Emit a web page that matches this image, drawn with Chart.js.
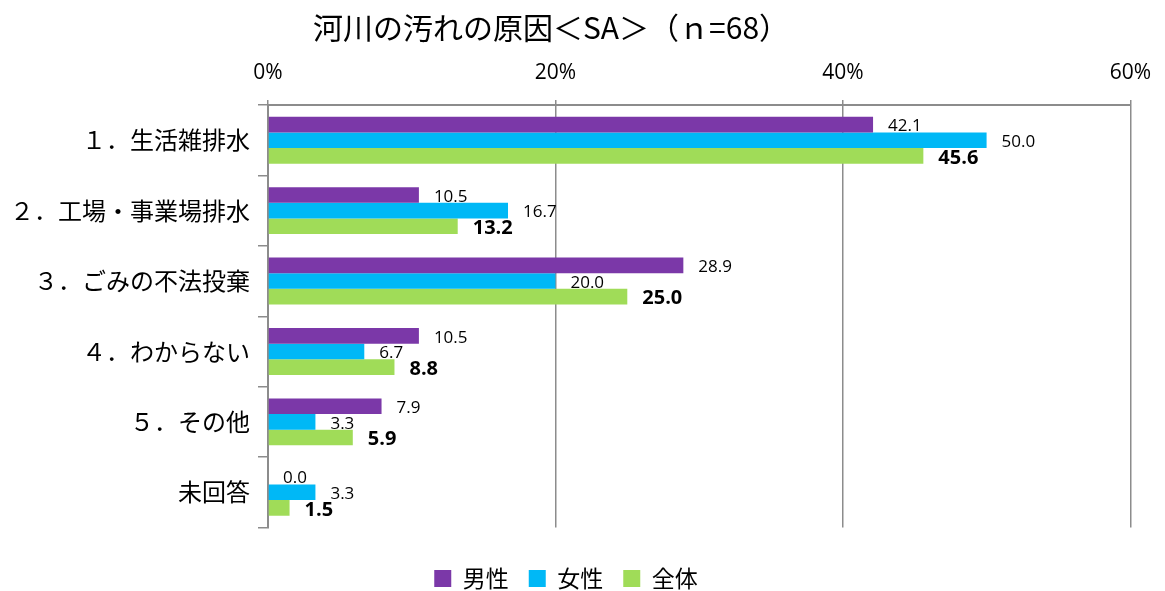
<!DOCTYPE html>
<html>
<head>
<meta charset="utf-8">
<script src="https://cdn.jsdelivr.net/npm/chart.js@4/dist/chart.umd.min.js"></script>
<style>
  html, body { margin: 0; padding: 0; background: #fff; }
  #wrap { width: 1165px; height: 591px; }
</style>
</head>
<body>
<div id="wrap"><canvas id="chart" width="1165" height="591"></canvas></div>
<script>
const categories = ['１．生活雑排水', '２．工場・事業場排水', '３．ごみの不法投棄', '４．わからない', '５．その他', '未回答'];
const maleValues = [42.1, 10.5, 28.9, 10.5, 7.9, 0.0];
const femaleValues = [50.0, 16.7, 20.0, 6.7, 3.3, 3.3];
const totalValues = [45.6, 13.2, 25.0, 8.8, 5.9, 1.5];
const xTicks = [0, 20, 40, 60];
const chartTitle = '河川の汚れの原因＜SA＞（ｎ=68）';

const jpFont = '"Noto Sans CJK JP", "Noto Sans", sans-serif';
const numFont = '"Open Sans", "Noto Sans", sans-serif';

// title drawn by hand so it can sit where the original has it
const titleText = {
    id: 'titleText',
    afterDraw(chart) {
        const ctx = chart.ctx;
        ctx.save();
        ctx.font = '30px ' + jpFont;
        ctx.fillStyle = '#000';
        ctx.textAlign = 'center';
        ctx.textBaseline = 'middle';
        ctx.fillText(chartTitle, 551, 28);
        ctx.restore();
    }
};

// value labels to the right of each bar (全体 in bold)
const valueLabels = {
    id: 'valueLabels',
    afterDatasetsDraw(chart) {
        const ctx = chart.ctx;
        ctx.save();
        chart.data.datasets.forEach((ds, i) => {
            const meta = chart.getDatasetMeta(i);
            const bold = i === 2;
            ctx.font = (bold ? 'bold 20px ' : '17px ') + numFont;
            ctx.fillStyle = '#000';
            ctx.textAlign = 'left';
            ctx.textBaseline = 'middle';
            meta.data.forEach((bar, j) => {
                ctx.fillText(ds.data[j].toFixed(1), bar.x + 15, bar.y + 2);
            });
        });
        ctx.restore();
    }
};

new Chart(document.getElementById('chart'), {
    type: 'bar',
    data: {
        labels: categories,
        datasets: [
            { label: '男性', data: maleValues, backgroundColor: '#7B38A8' },
            { label: '女性', data: femaleValues, backgroundColor: '#00B8F6' },
            { label: '全体', data: totalValues, backgroundColor: '#A0DC58' }
        ]
    },
    options: {
        indexAxis: 'y',
        responsive: false,
        animation: false,
        layout: { padding: { left: 0, right: 33, top: 55, bottom: -9 } },
        datasets: {
            bar: { categoryPercentage: 0.667, barPercentage: 1.0 }
        },
        scales: {
            x: {
                position: 'top',
                min: 0,
                max: 60,
                afterBuildTicks: (axis) => { axis.ticks = xTicks.map(v => ({ value: v })); },
                ticks: {
                    callback: (v) => v + '%',
                    color: '#000',
                    font: { family: numFont, size: 21 },
                    padding: 14
                },
                grid: { color: '#8c8c8c', lineWidth: 1.5, tickLength: 5 },
                border: { color: '#8c8c8c', width: 2 },
                afterFit: (s) => { s.height = 50; }
            },
            y: {
                ticks: {
                    color: '#000',
                    font: { family: jpFont, size: 24 },
                    padding: 8
                },
                grid: { drawOnChartArea: false, color: '#8c8c8c', lineWidth: 1.5, tickLength: 10, offset: true },
                border: { color: '#8c8c8c', width: 2 },
                afterFit: (s) => { s.width = 268; }
            }
        },
        plugins: {
            title: { display: false },
            legend: {
                position: 'bottom',
                title: {
                    display: true,
                    text: ' ',
                    font: { size: 10 },
                    padding: { top: 0, bottom: 7.5 }
                },
                labels: {
                    color: '#000',
                    font: { family: jpFont, size: 23 },
                    boxWidth: 17,
                    boxHeight: 17,
                    padding: 20
                }
            },
            tooltip: { enabled: false }
        }
    },
    plugins: [valueLabels, titleText]
});
</script>
</body>
</html>
